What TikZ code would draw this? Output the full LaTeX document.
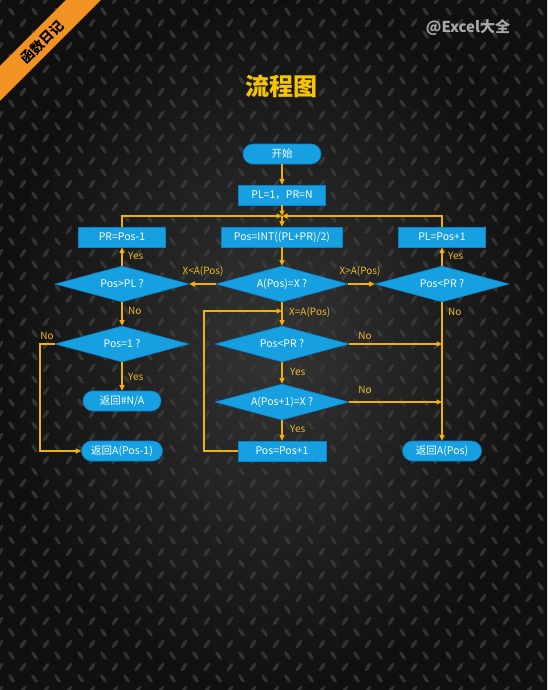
\documentclass[tikz,border=0pt]{standalone}
\usepackage{fontspec}
\setmainfont{Noto Sans CJK SC}
\usetikzlibrary{shapes.geometric,arrows.meta,calc}
\definecolor{bgin}{RGB}{52,52,52}
\definecolor{bgout}{RGB}{16,16,16}
\definecolor{plate}{RGB}{62,62,62}
\definecolor{ribbon}{RGB}{242,146,34}
\definecolor{nodeblue}{RGB}{22,160,226}
\definecolor{nodeedge}{RGB}{12,128,196}
\definecolor{lineyel}{RGB}{240,178,10}
\definecolor{labyel}{RGB}{238,188,40}
\definecolor{titleyel}{RGB}{247,196,0}
\definecolor{wmgray}{RGB}{168,168,168}
\tikzset{
  box/.style={rectangle, fill=nodeblue, draw=nodeedge, line width=0.6pt, text=white,
    font=\fontsize{10.5}{12}\selectfont, minimum height=20pt, inner sep=1pt},
  pill/.style={box, rounded corners=10pt},
  dia/.style={diamond, fill=nodeblue, draw=nodeedge, line width=0.6pt, text=white,
    font=\fontsize{10.5}{12}\selectfont, minimum width=134pt, minimum height=36pt,
    inner sep=0pt, shape aspect=3.7},
  conn/.style={draw=lineyel, line width=1.6pt},
  arr/.style={conn, -{Triangle[length=5.5pt,width=5pt]}},
  lab/.style={text=labyel, font=\fontsize{10}{11}\selectfont, inner sep=0pt}
}
\begin{document}
\begin{tikzpicture}[x=1pt,y=-1pt]
\useasboundingbox (0,0) rectangle (547,690);
% background
\shade[inner color=bgin, outer color=bgout] (0,0) rectangle (547,690);
\foreach \i in {0,...,48}{
  \foreach \j in {0,...,61}{
    \pgfmathtruncatemacro\p{mod(\i+\j,2)}
    \ifnum\p=0
      \pgfmathsetmacro\ang{ifthenelse(mod(\i,2)==0,55,-55)}
      \fill[plate, opacity=0.75, rotate around={\ang:(\i*11.5,\j*11.5)}] (\i*11.5,\j*11.5) ellipse [x radius=5pt, y radius=1.8pt];
    \fi
  }
}
% ribbon
\fill[ribbon] (0,66) -- (66,0) -- (101,0) -- (0,101) -- cycle;
\node[rotate=45, text=black, inner sep=0pt, font=\bfseries\fontsize{13.5}{14}\selectfont] (rib) at (42,42) {函数日记};
% watermark and title
\node[text=wmgray, font=\bfseries\fontsize{15}{16}\selectfont] (wm) at (468,28) {@Excel大全};
\node[text=titleyel, font=\bfseries\fontsize{24}{26}\selectfont] (title) at (281,86) {流程图};

% nodes
\node[pill, minimum width=78pt] (start) at (282,154) {开始};
\node[box, minimum width=87pt] (init) at (282,195) {PL=1，PR=N};
\coordinate (j1) at (282,216);
\node[box, minimum width=87pt] (prb) at (122,237) {PR=Pos-1};
\node[box, minimum width=121pt] (mid) at (282,237) {Pos=INT((PL+PR)/2)};
\node[box, minimum width=87pt] (plb) at (442,237) {PL=Pos+1};
\node[dia] (d1) at (122,284) {Pos>PL ?};
\node[dia, minimum width=132pt] (d0) at (282,284) {A(Pos)=X ?};
\node[dia] (d2) at (442,284) {Pos<PR ?};
\node[dia] (d3) at (122,344) {Pos=1 ?};
\node[dia] (d4) at (282,344) {Pos<PR ?};
\node[dia] (d5) at (282,402) {A(Pos+1)=X ?};
\node[pill, minimum width=78pt] (na) at (122,401) {返回\#N/A};
\node[pill, minimum width=81pt] (rl) at (122,451) {返回A(Pos-1)};
\node[box, minimum width=88pt] (inc) at (282,451) {Pos=Pos+1};
\node[pill, minimum width=79pt] (rr) at (442,451) {返回A(Pos)};
\coordinate (m1) at (282,311);
\coordinate (r1) at (442,344);
\coordinate (r2) at (442,402);
\coordinate (lc) at (40,0);
\coordinate (mc) at (204,0);

% connectors
\draw[arr] (start) -- (init);
\draw[arr] (init) -- (j1);
\draw[arr] (prb.north) |- (j1);
\draw[arr] (plb.north) |- (j1);
\draw[arr] (j1) -- (mid);
\draw[arr] (mid) -- (d0);
\draw[arr] (d0.west) -- (d1.east);
\draw[arr] (d0.east) -- (d2.west);
\draw[arr] (d1.north) -- (prb.south);
\draw[arr] (d2.north) -- (plb.south);
\draw[arr] (d1.south) -- (d3.north);
\draw[arr] (d3.south) -- (na.north);
\draw[arr] (d3.west) -| (lc |- rl) -- (rl.west);
\draw[arr] (d0.south) -- (d4.north);
\draw[arr] (inc.west) -| (mc |- m1) -- (m1);
\draw[arr] (d4.south) -- (d5.north);
\draw[arr] (d5.south) -- (inc.north);
\draw[arr] (d4.east) -- (r1);
\draw[arr] (d5.east) -- (r2);
\draw[arr] (d2.south) -- (rr.north);

% labels
\node[lab] (l1) at (203,271) {X<A(Pos)};
\node[lab] (l2) at (360,271) {X>A(Pos)};
\node[lab, anchor=west] (l3) at (128,256) {Yes};
\node[lab, anchor=west] (l4) at (448,256) {Yes};
\node[lab, anchor=west] (l5) at (128,311) {No};
\node[lab, anchor=west] (l6) at (448,312) {No};
\node[lab] (l7) at (47,336) {No};
\node[lab, anchor=west] (l8) at (128,377) {Yes};
\node[lab, anchor=west] (l9) at (289,312) {X=A(Pos)};
\node[lab, anchor=west] (l10) at (290,372) {Yes};
\node[lab, anchor=west] (l11) at (290,429) {Yes};
\node[lab] (l12) at (365,336) {No};
\node[lab] (l13) at (365,390) {No};
\end{tikzpicture}
\end{document}
